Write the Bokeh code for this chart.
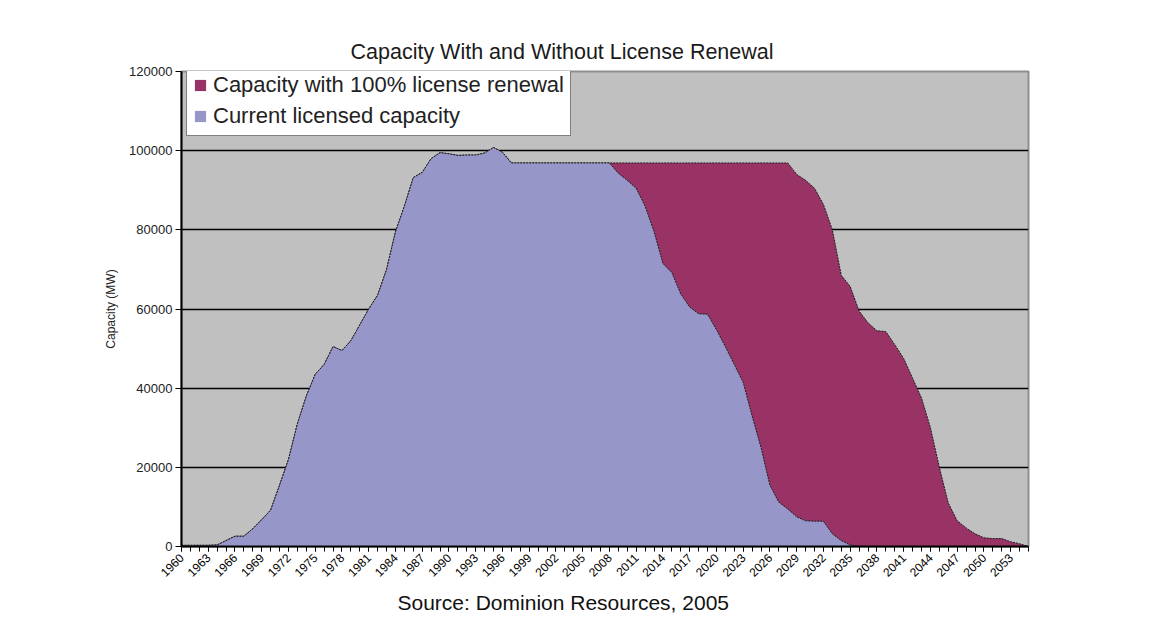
import math
from bokeh.plotting import figure
from bokeh.models import (Range1d, FixedTicker, Legend, LegendItem, Title,
                          BasicTickFormatter, ColumnDataSource)
from bokeh.embed import file_html
from bokeh.resources import INLINE

# ---- data ----
years = list(range(1960, 2056))

current_licensed = [
    300, 300, 300, 300, 400, 1500, 2600, 2600, 4500, 6800,          # 1960-1969
    9200, 15500, 22000, 31000, 38000, 43500, 46000, 50500, 49500, 52000,  # 1970-1979
    56000, 60000, 63500, 70000, 79500, 86000, 93200, 94500, 98000, 99500,  # 1980-1989
    99200, 98800, 98900, 98900, 99400, 100800, 99600, 96900, 96900, 96900,  # 1990-1999
    96900, 96900, 96900, 96900, 96900, 96900, 96900, 96900, 96900, 94300,  # 2000-2009
    92500, 90500, 86000, 79600, 71500, 69200, 63800, 60500, 58800, 58700,  # 2010-2019
    54800, 50500, 46000, 41500, 33000, 25000, 15500, 11200, 9500, 7500,    # 2020-2029
    6500, 6400, 6400, 3200, 1500, 400, 0, 0, 0, 0,                         # 2030-2039
    0, 0, 0, 0, 0, 0, 0, 0, 0, 0,                                          # 2040-2049
    0, 0, 0, 0, 0, 0,                                                      # 2050-2055
]

full_renewal = [
    300, 300, 300, 300, 400, 1500, 2600, 2600, 4500, 6800,          # 1960-1969
    9200, 15500, 22000, 31000, 38000, 43500, 46000, 50500, 49500, 52000,  # 1970-1979
    56000, 60000, 63500, 70000, 79500, 86000, 93200, 94500, 98000, 99500,  # 1980-1989
    99200, 98800, 98900, 98900, 99400, 100800, 99600, 96900, 96900, 96900,  # 1990-1999
    96900, 96900, 96900, 96900, 96900, 96900, 96900, 96900, 96900, 96900,  # 2000-2009
    96900, 96900, 96900, 96900, 96900, 96900, 96900, 96900, 96900, 96900,  # 2010-2019
    96900, 96900, 96900, 96900, 96900, 96900, 96900, 96900, 96900, 94000,  # 2020-2029
    92500, 90500, 86400, 80000, 68500, 65700, 59500, 56500, 54500, 54300,  # 2030-2039
    51000, 47500, 42500, 37500, 30000, 20000, 11000, 6500, 4700, 3200,     # 2040-2049
    2200, 2000, 2000, 1200, 700, 0,                                        # 2050-2055
]

x_tick_years = list(range(1960, 2054, 3))
x_tick_labels = [str(y) for y in x_tick_years]
y_tick_values = [0, 20000, 40000, 60000, 80000, 100000, 120000]

series_labels = ["Capacity with 100% license renewal", "Current licensed capacity"]
title_text = "Capacity With and Without License Renewal"
source_text = "Source: Dominion Resources, 2005"

FONT = "Liberation Sans"

src = ColumnDataSource(dict(year=years, current=current_licensed, renewal=full_renewal))

p = figure(width=1142, height=622, output_backend="svg", toolbar_location=None,
           x_range=Range1d(years[0], years[-1]), y_range=Range1d(0, 120000),
           min_border_left=181, min_border_right=114, min_border_top=71,
           min_border_bottom=76, background_fill_color="#C0C0C0",
           border_fill_color="white")

# title
p.title.text = title_text
p.title.text_font = FONT
p.title.text_font_size = "21.5px"
p.title.text_font_style = "normal"
p.title.text_color = "#1a1a1a"
p.title.align = "left"
p.title.offset = 169
p.title.standoff = 16

# areas
r_red = p.varea(x="year", y1=0, y2="renewal", source=src, fill_color="#993366")
p.line(x="year", y="renewal", source=src, line_color="#1a1a1a", line_width=1, line_dash="2 1")
r_blue = p.varea(x="year", y1=0, y2="current", source=src, fill_color="#9696C8")
p.line(x="year", y="current", source=src, line_color="#1a1a1a", line_width=1, line_dash="2 1")

# grid / outline
p.xgrid.visible = False
p.ygrid.grid_line_color = "black"
p.ygrid.grid_line_width = 1.5
p.outline_line_color = "#8f8f8f"
p.outline_line_width = 2

# x axis
p.xaxis.ticker = FixedTicker(ticks=x_tick_years, minor_ticks=years)
p.xaxis.major_label_overrides = {y: s for y, s in zip(x_tick_years, x_tick_labels)}
p.xaxis.major_label_orientation = math.pi / 4
p.xaxis.major_label_text_font = FONT
p.xaxis.major_label_text_font_size = "12px"
p.xaxis.major_label_text_color = "black"
p.xaxis.major_label_standoff = 4
p.xaxis.axis_line_width = 2
p.xaxis.axis_line_color = "black"
p.xaxis.major_tick_in = 0
p.xaxis.major_tick_out = 5
p.xaxis.minor_tick_in = 0
p.xaxis.minor_tick_out = 5
p.xaxis.major_tick_line_color = "black"
p.xaxis.minor_tick_line_color = "black"

# y axis
p.yaxis.ticker = FixedTicker(ticks=y_tick_values, minor_ticks=[])
p.yaxis.formatter = BasicTickFormatter(use_scientific=False)
p.yaxis.major_label_text_font = FONT
p.yaxis.major_label_text_font_size = "13px"
p.yaxis.major_label_text_color = "#222222"
p.yaxis.major_label_standoff = 3
p.yaxis.axis_line_width = 2
p.yaxis.axis_line_color = "black"
p.yaxis.major_tick_in = 0
p.yaxis.major_tick_out = 6
p.yaxis.major_tick_line_color = "black"
p.yaxis.axis_label = "Capacity (MW)"
p.yaxis.axis_label_text_font = FONT
p.yaxis.axis_label_text_font_size = "12px"
p.yaxis.axis_label_text_font_style = "normal"
p.yaxis.axis_label_text_color = "#222222"
p.yaxis.axis_label_standoff = 8

# legend
legend = Legend(items=[LegendItem(label=series_labels[0], renderers=[r_red]),
                       LegendItem(label=series_labels[1], renderers=[r_blue])],
                location=(5, 410), orientation="vertical",
                label_text_font=FONT, label_text_font_size="22px",
                label_text_color="#222222",
                glyph_width=14, glyph_height=14, label_standoff=6,
                label_height=22, spacing=5, padding=6, margin=0,
                background_fill_color="white", background_fill_alpha=1.0,
                border_line_color="black", border_line_width=1)
p.add_layout(legend)

# source note
p.add_layout(Title(text=source_text, text_font=FONT, text_font_size="21px",
                   text_font_style="normal", text_color="#111111",
                   align="left", offset=216, standoff=11), "below")

open("out.html", "w").write(file_html(p, INLINE))
